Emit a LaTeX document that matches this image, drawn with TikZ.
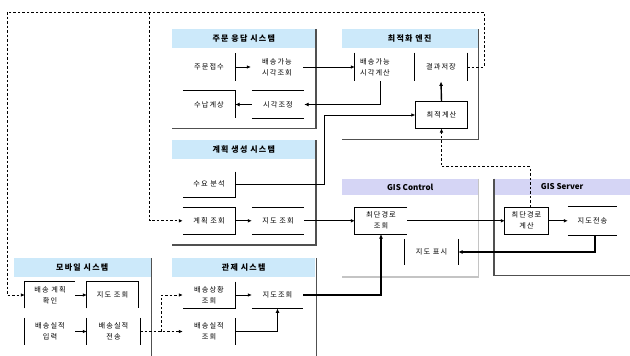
\documentclass[tikz,border=0pt]{standalone}
\usepackage{fontspec}
\setmainfont{Noto Sans CJK KR}[LetterSpace=15]
\newfontfamily\latinhdr{Noto Sans CJK KR}
\usetikzlibrary{arrows.meta,calc}
\definecolor{hblue}{HTML}{CCE9FA}
\definecolor{hlav}{HTML}{D5D5F5}
\definecolor{shd}{HTML}{505050}
\definecolor{lgr}{HTML}{C4C4C4}
\begin{document}
\begin{tikzpicture}[x=1pt,y=-1pt,
  bx/.style={minimum width=52pt, minimum height=27pt, inner sep=0pt, align=center, font=\fontsize{7.2}{11}\selectfont},
  hdr/.style={anchor=north west, inner sep=0pt, font=\bfseries\fontsize{8}{9}\selectfont},
  edge/.style={line width=0.7pt, black},
  pan/.style={line width=1.4pt, shd},
  con/.style={line width=0.7pt, -{Latex[length=4pt,width=3.6pt]}},
  tcon/.style={line width=1.4pt, -{Latex[length=4.5pt,width=4pt]}},
  dcon/.style={line width=0.9pt, dash pattern=on 2.5pt off 2pt, -{Latex[length=4pt,width=3.6pt]}},
]
\useasboundingbox (0,0) rectangle (630,356);

% headers
\node[hdr, fill=hblue, minimum width=143pt, minimum height=18.5pt] (h1) at (172,29) {주문 응답 시스템};
\node[hdr, fill=hblue, minimum width=136pt, minimum height=18.5pt] (h2) at (341.5,29) {최적화 엔진};
\node[hdr, fill=hblue, minimum width=143pt, minimum height=19pt] (h3) at (172,140) {계획 생성 시스템};
\node[hdr, fill=hlav, minimum width=136pt, minimum height=16.5pt, font=\latinhdr\bfseries\fontsize{8}{9}\selectfont] (h4) at (342,178.5) {GIS Control};
\node[hdr, fill=hlav, minimum width=136pt, minimum height=16.5pt, font=\latinhdr\bfseries\fontsize{8}{9}\selectfont] (h5) at (494,178.5) {GIS Server};
\node[hdr, fill=hblue, minimum width=137pt, minimum height=18.5pt] (h6) at (13.5,258) {모바일 시스템};
\node[hdr, fill=hblue, minimum width=143pt, minimum height=18.5pt] (h7) at (172,258) {관제 시스템};

% panel borders
\draw[pan] (316,29) -- (316,128.5) -- (172,128.5);
\draw[pan] (478.5,29) -- (478.5,139.5) -- (341.5,139.5);
\draw[pan] (316,140) -- (316,245) -- (172,245);
\draw[pan, lgr] (478.5,178.5) -- (478.5,277) -- (342,277);
\draw[pan] (494,178.5) -- (494,275.5) -- (630,275.5);
\draw[pan] (151.5,258) -- (151.5,356);
\draw[pan] (316.5,258) -- (316.5,356);

% boxes
\node[bx] (oa) at (209,67) {주문접수};
\node[bx] (ob) at (277,67) {배송가능\\시각조회};
\node[bx] (oc) at (209,104.5) {수납계상};
\node[bx] (od) at (278,104.5) {시각조정};
\node[bx, minimum width=40pt, minimum height=28.5pt] (ea) at (375,67) {배송가능\\시각계산};
\node[bx, minimum height=28.5pt] (eb) at (441,67) {결과저장};
\node[bx, minimum height=26.6pt] (ec) at (441.5,115) {최적계산};
\node[bx, minimum height=25pt] (pa) at (209,184.2) {수요 분석};
\node[bx, minimum height=26pt] (pb) at (209,220.8) {계획 조회};
\node[bx, minimum height=26pt] (pc) at (278,220.8) {지도 조회};
\node[bx, minimum height=26pt] (ga) at (381,220.8) {최단경로\\조회};
\node[bx, minimum width=53pt, minimum height=26pt] (gb) at (431.5,252) {지도 표시};
\node[bx, minimum width=43pt] (sa) at (526.5,220.8) {최단경로\\계산};
\node[bx, minimum width=49pt, minimum height=29pt] (sb) at (592.5,220.8) {지도전송};
\node[bx, minimum width=50pt, minimum height=26.5pt] (ma) at (50,295) {배송 계획\\확인};
\node[bx, minimum width=51pt, minimum height=26.5pt] (mb) at (112.5,295) {지도 조회};
\node[bx, minimum width=50pt] (mc) at (50,331.5) {배송실적\\입력};
\node[bx, minimum width=53pt] (md) at (113.5,331.5) {배송실적\\전송};
\node[bx, minimum height=26.5pt] (ca) at (209,295) {배송상황\\조회};
\node[bx, minimum width=51pt, minimum height=26.5pt] (cb) at (277.5,295) {지도조회};
\node[bx, minimum height=26.5pt] (cc) at (209,331.5) {배송실적\\조회};

% box edges
\draw[edge] (oa.north east) -- (oa.south east);
\draw[edge] (oc.north west) -- (oc.north east) -- (oc.south east);
\draw[edge] (od.north west) -- (od.north east);
\draw[edge] (od.south west) -- (od.south east);
\draw[edge] (ea.north west) -- (ea.south west);
\draw[edge] (eb.north west) -- (eb.south west);
\draw[edge] (eb.north east) -- (eb.south east);
\draw[edge] (ec.north west) rectangle (ec.south east);
\draw[edge] (pa.north east) -- (pa.south east) -- (pa.south west);
\draw[edge] (pb.north west) -- (pb.north east) -- (pb.south east) -- (pb.south west);
\draw[edge] (pc.north west) -- (pc.north east);
\draw[edge] (pc.south west) -- (pc.south east);
\draw[edge] (ga.north east) -- (ga.north west) -- (ga.south west) -- (ga.south east);
\draw[edge] (gb.north west) -- (gb.south west);
\draw[edge] (gb.north east) -- (gb.south east);
\draw[edge] (sa.north west) rectangle (sa.south east);
\draw[edge] (sb.north west) -- (sb.north east);
\draw[edge] (sb.south west) -- (sb.south east);
\draw[edge] (ma.south west) -- (ma.north west) -- (ma.north east);
\draw[edge] (mb.south west) -- (mb.north west) -- (mb.north east) -- (mb.south east);
\draw[edge] (mc.north west) -- (mc.south west);
\draw[edge] (md.north west) -- (md.south west);
\draw[edge] (md.north east) -- (md.south east);
\draw[edge] (ca.north east) -- (ca.south east) -- (ca.south west);
\draw[edge] (cb.south west) -- (cb.south east);
\draw[edge] (cc.north east) -- (cc.south east);

% solid connectors
\draw[con] (oa.east) -- (ob.west);
\draw[con] (ob.east) -- (ea.west);
\draw[tcon] (380.5,0 |- ea.south) |- (od.east);
\draw[tcon] (od.west) -- (oc.east);
\draw[con] (pa.east) -| (324.5,0 |- ec.west) -- (ec.west);
\draw[tcon] (ec.north) -- (eb.south);
\draw[con] (pb.east) -- (pc.west);
\draw[con] (pc.east) -- (ga.west);
\draw[con] (ga.east) -- (sa.west);
\draw[con] (sa.east) -- (sb.west);
\draw[tcon] (595,0 |- sb.south) |- (gb.east);
\draw[con] (ca.east) -- (cb.west);
\draw[tcon] (cb.east) -| (ga.south);
\draw[tcon] (cc.east) -| (cb.south);
\draw[con] (ma.east) -- (mb.west);
\draw[con] (mc.east) -- (md.west);

% dashed connectors
\coordinate (d1) at (484,12);
\coordinate (d2) at (7,12);
\coordinate (d3) at (149.5,12);
\coordinate (d4) at (441.5,166.7);
\draw[dcon] (eb.east) -| (d1) -- (d2) |- (ma.west);
\draw[dcon] (d3) |- (pb.west);
\draw[dcon] (md.east) -- (cc.west);
\draw[dcon] (161,0 |- md.east) |- (ca.west);
\draw[dcon] (530,0 |- sa.north) |- (d4) -- (ec.south);
\end{tikzpicture}
\end{document}
